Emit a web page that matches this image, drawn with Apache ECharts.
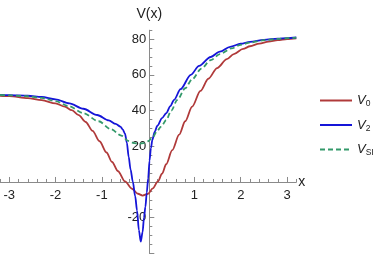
<!DOCTYPE html>
<html>
<head>
<meta charset="utf-8">
<script src="https://cdn.jsdelivr.net/npm/echarts@6/dist/echarts.min.js"></script>
<style>html,body{margin:0;padding:0;background:#fff}#c{width:380px;height:255px}</style>
</head>
<body>
<div id="c"></div>
<script>
// V0 (dark red)
const xV0 = [-3.2,-3,-2.6,-2.3,-2,-1.8,-1.65,-1.5,-1.35,-1.2,-1.05,-0.9,-0.78,-0.65,-0.5,-0.35,-0.22,-0.12,0,0.1,0.21,0.3,0.39,0.52,0.67,0.8,0.95,1.13,1.3,1.49,1.7,1.85,2.05,2.2,2.4,2.6,2.8,3,3.2];
const yV0 = [48.3,48.1,47,45.8,44,42.2,40.2,37.4,33.6,28.6,22.8,16.5,11.2,6,0.3,-3.8,-6.6,-7.6,-6.6,-3.6,0.3,4.6,10,17.8,26.5,34,42.2,51,57.8,63.8,68.8,71.6,74.5,76,77.5,78.6,79.4,80,80.4];
// V2 (blue)
const xV2 = [-3.2,-3,-2.6,-2.3,-2,-1.7,-1.4,-1.1,-0.85,-0.7,-0.6,-0.55,-0.5,-0.46,-0.42,-0.38,-0.33,-0.28,-0.24,-0.2,-0.16,-0.12,-0.09,-0.06,-0.03,0,0.03,0.06,0.09,0.14,0.2,0.3,0.39,0.48,0.56,0.7,0.92,1.1,1.35,1.55,1.77,2,2.2,2.5,2.8,3,3.2];
const yV2 = [48.7,48.6,48.3,47.6,46.3,44,41,37.5,34.5,32.5,31,29.5,27,22,14,7,0,-8,-16,-27,-33.4,-28,-20,-14,-6,2,12,19,23.5,28,31.5,35.8,38.5,42.5,46,52,60,65,70,73,75.7,77.4,78.5,79.6,80.3,80.6,80.9];
// V_SI (green dashed)
const xVSI = [-3.2,-3,-2.6,-2.3,-2,-1.72,-1.4,-1.07,-0.8,-0.58,-0.43,-0.3,-0.2,-0.1,0,0.1,0.18,0.28,0.39,0.5,0.63,0.8,0.95,1.15,1.35,1.55,1.8,2,2.2,2.5,2.8,3,3.2];
const yVSI = [48.7,48.5,48,47.1,45.3,42.5,38.5,34,29.5,26,23,21.8,21.5,21.8,22.8,25,28,31,34.7,40,46,52.5,57.5,63.5,68.2,71.6,74.8,76.8,78.1,79.4,80.1,80.5,80.8];
// ticks / labels
const xLabels = [-3,-2,-1,1,2,3];
const xMajor = [-3,-2,-1,0,1,2,3];
const yLabels = [-20,20,40,60,80];
const yMajor = [-40,-20,20,40,60,80];
const seriesNames = ['V0','V2','VSI'];

const pairs = (xs, ys) => xs.map((x, i) => [x, ys[i]]);
const FONT = '"Liberation Sans Narrow","Liberation Sans",Arial,sans-serif';
const AX = '#8a8a8a';

// grid geometry: x in [-3.2,3.2], y in [-40,85]
const G = {left: -2.3, right: 83.7, top: 30.2, bottom: 1.6};
const gw = 380 - G.left - G.right, gh = 255 - G.top - G.bottom;
const xOff = -(gh * 40 / 125);        // move x axis up to y=0
const yOff = -(gw * 3.2 / 6.4);       // move y axis right to x=0

const chart = echarts.init(document.getElementById('c'), null, {renderer: 'canvas'});
const legendText = {V0: '{v|V}{s|0}', V2: '{v|V}{s|2}', VSI: '{v|V}{s|SI}'};
chart.setOption({
  animation: false,
  grid: Object.assign({containLabel: false}, G),
  xAxis: [{
    type: 'value', min: -3.2, max: 3.2, interval: 0.2, position: 'bottom', offset: xOff,
    name: 'x', nameLocation: 'end', nameGap: 2,
    nameTextStyle: {fontFamily: FONT, fontSize: 14, color: '#222'},
    axisLine: {onZero: false, lineStyle: {color: AX, width: 1}},
    axisTick: {inside: true, length: 3, lineStyle: {color: AX}},
    axisLabel: {customValues: xLabels, margin: 7, fontFamily: FONT, fontSize: 13, color: '#222',
      formatter: v => String(Math.round(v))},
    splitLine: {show: false}
  }, {
    type: 'value', min: -3.2, max: 3.2, interval: 1, position: 'bottom', offset: xOff,
    axisLine: {show: false, onZero: false},
    axisTick: {inside: true, length: 5, customValues: xMajor, lineStyle: {color: AX}},
    axisLabel: {show: false},
    splitLine: {show: false}
  }],
  yAxis: [{
    type: 'value', min: -40, max: 85, interval: 5, position: 'left', offset: yOff,
    name: 'V(x)', nameLocation: 'end', nameGap: 9,
    nameTextStyle: {fontFamily: FONT, fontSize: 14, color: '#222'},
    axisLine: {onZero: false, lineStyle: {color: AX, width: 1}},
    axisTick: {inside: true, length: 3, lineStyle: {color: AX}},
    axisLabel: {customValues: yLabels, margin: 3, fontFamily: FONT, fontSize: 13, color: '#222'},
    splitLine: {show: false}
  }, {
    type: 'value', min: -40, max: 85, interval: 20, position: 'left', offset: yOff,
    axisLine: {show: false, onZero: false},
    axisTick: {inside: true, length: 5, customValues: yMajor, lineStyle: {color: AX}},
    axisLabel: {show: false},
    splitLine: {show: false}
  }],
  legend: {
    orient: 'vertical', left: 319, top: 94, padding: 0, itemWidth: 32, itemHeight: 14, itemGap: 10,
    data: seriesNames,
    itemStyle: {opacity: 0},
    formatter: n => legendText[n],
    textStyle: {
      color: '#222',
      rich: {
        v: {fontFamily: FONT, fontSize: 13, fontStyle: 'italic', color: '#222'},
        s: {fontFamily: FONT, fontSize: 8.5, color: '#222', padding: [7, 0, 0, 0]}
      }
    }
  },
  series: [{
    name: 'V0', type: 'line', data: pairs(xV0, yV0), showSymbol: false, symbol: 'none',
    smooth: 0.3, smoothMonotone: 'x', clip: true,
    lineStyle: {color: '#b03a3a', width: 1.8}, itemStyle: {color: '#b03a3a'}
  }, {
    name: 'V2', type: 'line', data: pairs(xV2, yV2), showSymbol: false, symbol: 'none',
    smooth: 0.3, smoothMonotone: 'x', clip: true,
    lineStyle: {color: '#1515d8', width: 1.8}, itemStyle: {color: '#1515d8'}
  }, {
    name: 'VSI', type: 'line', data: pairs(xVSI, yVSI), showSymbol: false, symbol: 'none',
    smooth: 0.3, smoothMonotone: 'x', clip: true,
    lineStyle: {color: '#33996a', width: 1.8, type: [5, 3]}, itemStyle: {color: '#33996a'}
  }]
});
</script>
</body>
</html>
